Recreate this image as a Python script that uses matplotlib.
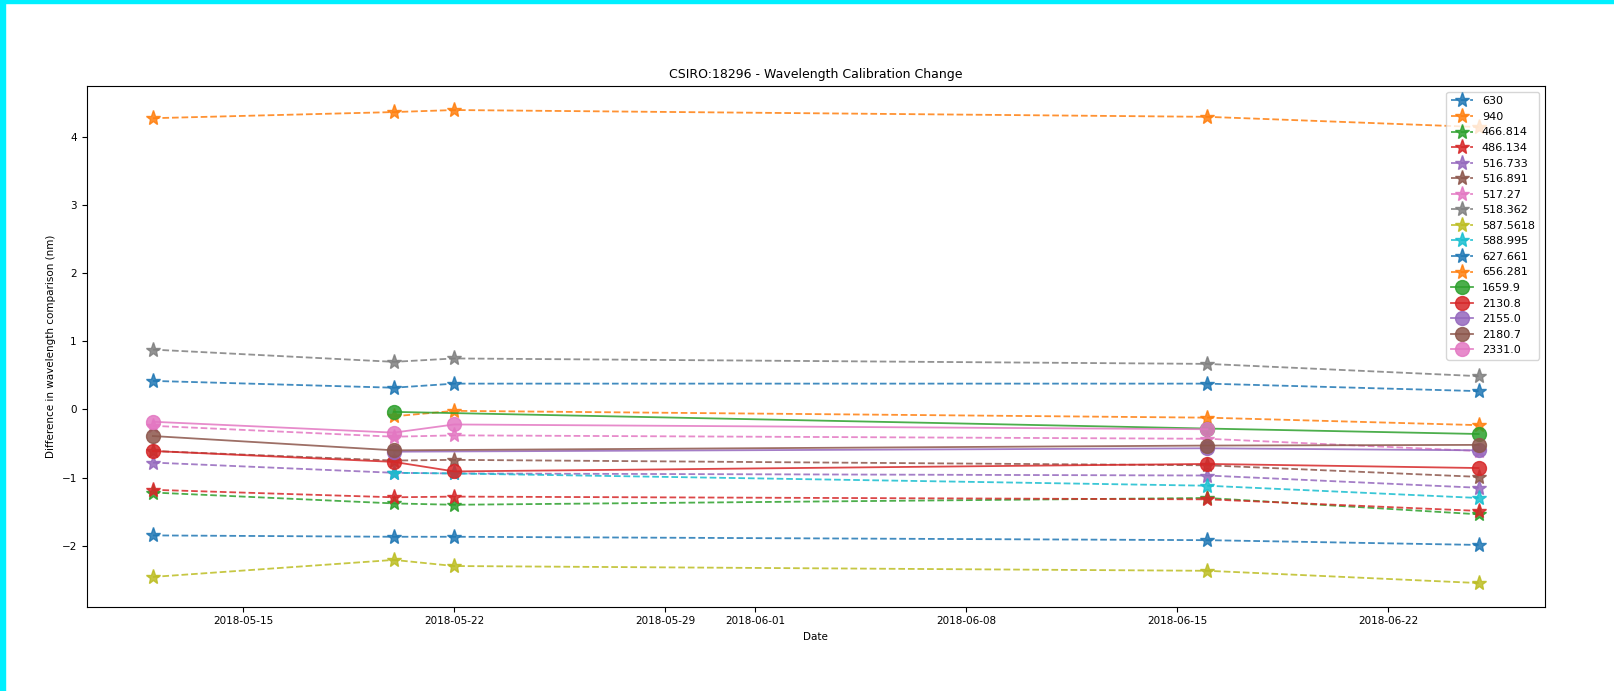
import datetime as dt
import numpy as np
import matplotlib
matplotlib.use("Agg")
import matplotlib.pyplot as plt
import matplotlib.dates as mdates
from matplotlib.patches import Rectangle

nan = np.nan

dates = [dt.datetime(2018, 5, 12), dt.datetime(2018, 5, 20), dt.datetime(2018, 5, 22),
         dt.datetime(2018, 6, 16), dt.datetime(2018, 6, 25)]

# star markers, dashed lines
star_labels = ["630", "940", "466.814", "486.134", "516.733", "516.891", "517.27",
               "518.362", "587.5618", "588.995", "627.661", "656.281"]
star_values = [
    [0.42, 0.32, 0.38, 0.38, 0.27],
    [4.28, 4.37, 4.40, 4.30, 4.15],
    [-1.22, -1.38, -1.40, -1.30, -1.54],
    [-1.18, -1.29, -1.28, -1.32, -1.49],
    [-0.78, -0.93, -0.94, -0.97, -1.15],
    [-0.61, -0.75, -0.74, -0.82, -0.99],
    [-0.24, -0.40, -0.38, -0.43, -0.61],
    [0.88, 0.70, 0.75, 0.67, 0.49],
    [-2.46, -2.21, -2.30, -2.37, -2.55],
    [nan, -0.93, -0.94, -1.12, -1.30],
    [-1.85, -1.87, -1.87, -1.92, -1.99],
    [nan, -0.10, -0.02, -0.12, -0.23],
]

# circle markers, solid lines
circle_labels = ["1659.9", "2130.8", "2155.0", "2180.7", "2331.0"]
circle_values = [
    [nan, -0.035, nan, -0.28, -0.36],
    [-0.61, -0.77, -0.91, -0.80, -0.86],
    [nan, -0.62, nan, -0.57, -0.60],
    [-0.39, -0.60, nan, -0.53, -0.52],
    [-0.18, -0.34, -0.22, -0.29, nan],
]

plt.rcParams["font.size"] = 7.5
plt.rcParams["lines.linewidth"] = 1.3

fig = plt.figure(figsize=(16.15, 6.91), dpi=100)
ax = fig.add_axes([0.0536, 0.122, 0.903, 0.753])

colors = plt.rcParams["axes.prop_cycle"].by_key()["color"]
k = 0
for label, vals in zip(star_labels, star_values):
    d = [x for x, v in zip(dates, vals) if not np.isnan(v)]
    v = [v for v in vals if not np.isnan(v)]
    ax.plot(d, v, "*--", color=colors[k % 10], markersize=11, alpha=0.85, label=label)
    k += 1
for label, vals in zip(circle_labels, circle_values):
    d = [x for x, v in zip(dates, vals) if not np.isnan(v)]
    v = [v for v in vals if not np.isnan(v)]
    ax.plot(d, v, "o-", color=colors[k % 10], markersize=10, alpha=0.85, label=label)
    k += 1

ax.xaxis.set_major_locator(mdates.DayLocator(bymonthday=[1, 8, 15, 22, 29]))
ax.xaxis.set_major_formatter(mdates.DateFormatter("%Y-%m-%d"))

ax.set_title("CSIRO:18296 - Wavelength Calibration Change")
ax.set_xlabel("Date")
ax.set_ylabel("Difference in wavelength comparison (nm)")
ax.legend(loc="upper right", fontsize=8)

# cyan frame on the top and left edge
fig.patches.append(Rectangle((0, 1 - 3 / 691), 1, 3 / 691, transform=fig.transFigure,
                             color="#00f0ff", zorder=10))
fig.patches.append(Rectangle((0, 0), 5 / 1615, 1, transform=fig.transFigure,
                             color="#00f0ff", zorder=10))

fig.savefig("out.png", dpi=100)
